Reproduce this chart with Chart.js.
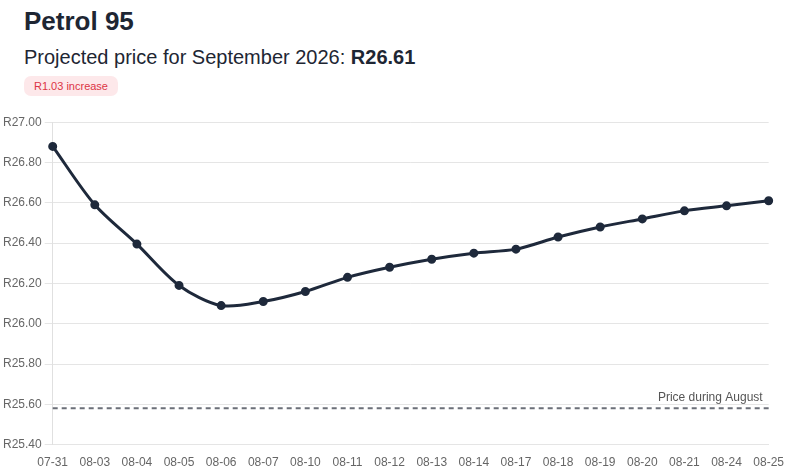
<!DOCTYPE html>
<html>
<head>
<meta charset="utf-8">
<script src="https://cdn.jsdelivr.net/npm/chart.js@4"></script>
<style>
  html, body { margin: 0; padding: 0; background: #fff; }
  body { width: 787px; height: 472px; overflow: hidden; font-family: "Liberation Sans", Arial, sans-serif; color: #1f2937; }
  h1 { position: absolute; left: 24px; top: 6px; margin: 0; font-size: 26px; font-weight: bold; color: #1e2633; }
  .sub { position: absolute; left: 24px; top: 46px; font-size: 20px; color: #1e2633; }
  .sub b { font-weight: bold; }
  .badge { position: absolute; left: 24px; top: 76px; height: 20px; line-height: 20px; padding: 0 10px; font-size: 11px; color: #dc3545; background: #fde8ea; border-radius: 7px; }
  .wrap { position: absolute; left: 0; top: 112px; width: 787px; height: 361px; }
</style>
</head>
<body>
<h1>Petrol 95</h1>
<div class="sub">Projected price for September 2026: <b>R26.61</b></div>
<div class="badge">R1.03 increase</div>
<div class="wrap"><canvas id="grafico"></canvas></div>
<script>
// dias e preços projetados
const categories = ["07-31", "08-03", "08-04", "08-05", "08-06", "08-07", "08-10", "08-11", "08-12",
  "08-13", "08-14", "08-17", "08-18", "08-19", "08-20", "08-21", "08-24", "08-25"];
const precos = [26.88, 26.59, 26.395, 26.19, 26.09, 26.11, 26.16, 26.23, 26.28,
  26.32, 26.35, 26.37, 26.43, 26.48, 26.52, 26.56, 26.585, 26.61];
const precoAgosto = 25.58;
const yTicks = { min: 25.4, max: 27.0, step: 0.2 };

// linha tracejada do preço de agosto (mesmo valor em todas as datas)
const linhaAgosto = categories.map(() => precoAgosto);

// escreve o rótulo em cima da linha tracejada
const rotuloAgosto = {
  id: "rotuloAgosto",
  afterDatasetsDraw(chart) {
    const { ctx, chartArea, scales } = chart;
    const y = scales.y.getPixelForValue(precoAgosto);
    ctx.save();
    ctx.font = "12px 'Liberation Sans', Arial, sans-serif";
    ctx.fillStyle = "#555";
    ctx.textAlign = "right";
    ctx.textBaseline = "bottom";
    ctx.fillText("Price during August", chartArea.right - 6, y - 5);
    ctx.restore();
  }
};

document.addEventListener("DOMContentLoaded", () => {
  const ctx = document.getElementById("grafico");
  Chart.defaults.font.family = "'Liberation Sans', Arial, sans-serif";
  Chart.defaults.font.size = 12;
  Chart.defaults.color = "#666";

  new Chart(ctx, {
    type: "line",
    data: {
      labels: categories,
      datasets: [
        {
          label: "Projected price",
          data: precos,
          borderColor: "#1e293b",
          backgroundColor: "#1e293b",
          borderWidth: 3,
          pointRadius: 3,
          pointHoverRadius: 4,
          tension: 0.3,
        },
        {
          label: "Price during August",
          data: linhaAgosto,
          borderColor: "#6b6f78",
          borderWidth: 2,
          borderDash: [5, 4],
          pointRadius: 0,
          fill: false,
        },
      ],
    },
    options: {
      responsive: true,
      maintainAspectRatio: false,
      animation: false,
      layout: { padding: { left: 0, right: 18, top: 2, bottom: 0 } },
      plugins: {
        legend: { display: false },
        tooltip: { enabled: false },
      },
      scales: {
        x: {
          offset: false,
          grid: { display: false },
          border: { display: true, color: "#e5e5e5" },
          ticks: { maxRotation: 0, autoSkip: false, padding: 3 },
        },
        y: {
          min: yTicks.min,
          max: yTicks.max,
          grid: { color: "#e5e5e5", tickLength: 8 },
          border: { display: true, color: "#e0e0e0" },
          ticks: {
            stepSize: yTicks.step,
            callback: (v) => "R" + Number(v).toFixed(2),
          },
        },
      },
    },
    plugins: [rotuloAgosto],
  });
});
</script>
</body>
</html>
